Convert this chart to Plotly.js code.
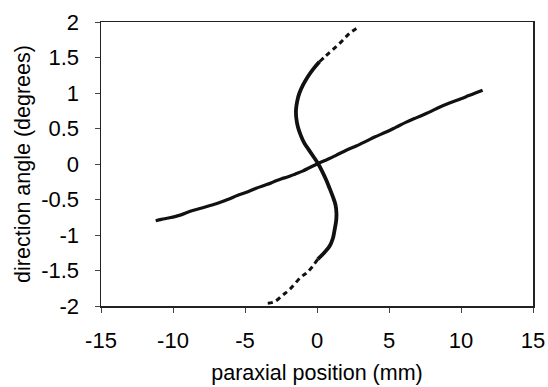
<!DOCTYPE html>
<html>
<head>
<meta charset="utf-8">
<script src="https://cdn.plot.ly/plotly-3.0.1.min.js"></script>
<style>html,body{margin:0;padding:0;background:#fff}#chart{width:548px;height:387px}</style>
</head>
<body>
<div id="chart"></div>
<script>
// Straight-ish line (paraxial position vs direction angle)
const lineX = [-11.2, -10.8, -10.3, -9.5, -8.85, -8.0, -7.0, -6.2, -5.5, -4.8, -4.22, -3.5, -3.0, -2.5, -2.0, -1.5, -1.0, -0.5, 0.0, 0.5, 1.0, 1.5, 2.0, 2.5, 3.0, 3.5, 4.0, 4.8, 5.5, 6.2, 7.0, 7.8, 8.5, 9.2, 10.0, 10.5, 11.0, 11.5];
const lineY = [-0.80, -0.78, -0.76, -0.72, -0.67, -0.62, -0.56, -0.50, -0.44, -0.39, -0.34, -0.29, -0.25, -0.21, -0.18, -0.14, -0.10, -0.05, 0.00, 0.045, 0.09, 0.14, 0.19, 0.235, 0.28, 0.33, 0.38, 0.45, 0.52, 0.59, 0.66, 0.73, 0.80, 0.86, 0.92, 0.96, 1.00, 1.04];

// S-shaped curve, dense central part
const sX = [0.06, 0.50, 0.87, 1.10, 1.22, 1.33, 1.35, 1.28, 1.10, 0.87, 0.64, 0.35, 0.06, -0.30, -0.60, -0.87, -1.12, -1.33, -1.44, -1.46, -1.38, -1.22, -0.95, -0.64, -0.25, 0.17];
const sY = [-1.34, -1.25, -1.16, -1.05, -0.93, -0.80, -0.69, -0.57, -0.46, -0.34, -0.225, -0.10, 0.01, 0.12, 0.21, 0.29, 0.40, 0.525, 0.65, 0.76, 0.88, 1.00, 1.12, 1.23, 1.34, 1.44];

// S-curve sparse tails
const tailLowX = [-3.42, -2.95, -2.40, -1.91, -1.10, -0.64, 0.06];
const tailLowY = [-1.96, -1.94, -1.85, -1.77, -1.59, -1.52, -1.34];
const tailHighX = [0.17, 0.60, 1.10, 1.68, 2.26, 2.90];
const tailHighY = [1.44, 1.52, 1.61, 1.72, 1.84, 1.93];

const xTicks = [-15, -10, -5, 0, 5, 10, 15];
const yTicks = [-2, -1.5, -1, -0.5, 0, 0.5, 1, 1.5, 2];

const ink = '#111';
const traces = [
  {x: lineX, y: lineY, mode: 'lines', line: {color: ink, width: 3.2, shape: 'spline'}, hoverinfo: 'skip'},
  {x: sX, y: sY, mode: 'lines', line: {color: ink, width: 3.8, shape: 'spline'}, hoverinfo: 'skip'},
  {x: tailLowX, y: tailLowY, mode: 'lines', line: {color: ink, width: 3, dash: '5px,4px', shape: 'spline'}, hoverinfo: 'skip'},
  {x: tailHighX, y: tailHighY, mode: 'lines', line: {color: ink, width: 3, dash: '5px,4px', shape: 'spline'}, hoverinfo: 'skip'}
];

const fam = '"Liberation Sans", Arial, sans-serif';
const layout = {
  width: 548, height: 387,
  margin: {l: 101, r: 15, t: 22, b: 81, pad: 0},
  paper_bgcolor: '#fff', plot_bgcolor: '#fff',
  showlegend: false,
  font: {family: fam, size: 22, color: '#000'},
  xaxis: {
    range: [-15, 15], tickvals: xTicks, ticktext: xTicks.map(String),
    showgrid: false, zeroline: false,
    showline: true, mirror: true, linecolor: '#222', linewidth: 1.5,
    ticks: 'outside', ticklen: 5, tickcolor: '#444', tickwidth: 1,
    ticklabelstandoff: 9,
    tickfont: {family: fam, size: 22, color: '#000'},
    title: {text: 'paraxial position (mm)', font: {family: fam, size: 21.5, color: '#000'}, standoff: 13},
    automargin: false, fixedrange: true
  },
  yaxis: {
    range: [-2, 2], tickvals: yTicks, ticktext: yTicks.map(String),
    showgrid: false, zeroline: false,
    showline: true, mirror: true, linecolor: '#222', linewidth: 1.5,
    ticks: 'outside', ticklen: 5, tickcolor: '#444', tickwidth: 1,
    ticklabelstandoff: 11,
    tickfont: {family: fam, size: 22, color: '#000'},
    title: {text: 'direction angle (degrees)', font: {family: fam, size: 21.5, color: '#000'}, standoff: 4},
    automargin: false, fixedrange: true
  }
};
Plotly.newPlot('chart', traces, layout, {staticPlot: true, displayModeBar: false});
</script>
</body>
</html>
